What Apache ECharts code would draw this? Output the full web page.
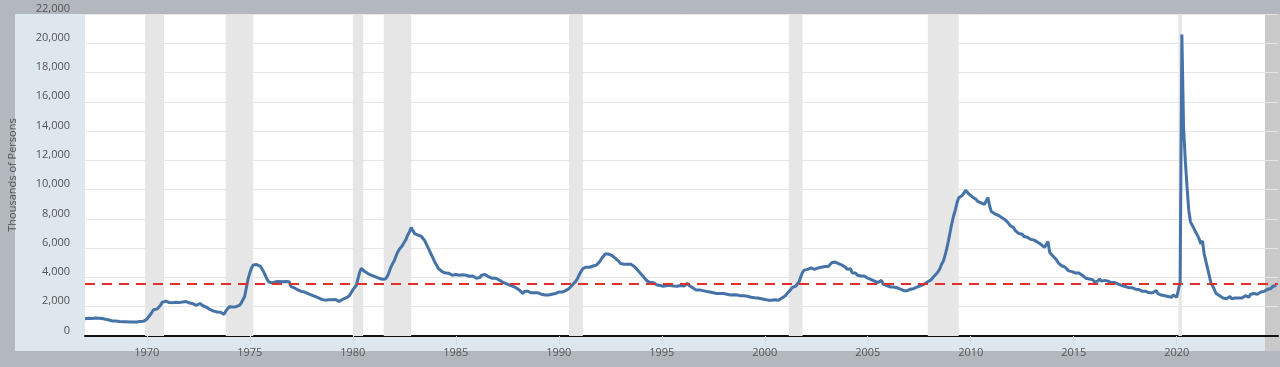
<!DOCTYPE html>
<html>
<head>
<meta charset="utf-8">
<script src="https://cdn.jsdelivr.net/npm/echarts@6/dist/echarts.min.js"></script>
<style>
html,body{margin:0;padding:0;background:#b3b8bf;}
#c{width:1280px;height:367px;}
</style>
</head>
<body>
<div id="c"></div>
<script>
// Unemployment level - job losers (thousands of persons), monthly, Jan 1967 - Nov 2024
const startYear = 1967;
const values1967to1979 = [
  1180,1230,1210,1260,1200,1240,1230,1190,1220,1250,1200,1180,
  1140,1110,1090,1060,1030,1050,1020,1000,990,1010,980,960,
  970,940,960,930,950,980,960,970,990,980,1000,1010,
  1150,1300,1450,1620,1800,1830,1850,1950,2100,2300,2350,2380,
  2350,2290,2320,2280,2330,2300,2360,2280,2300,2330,2290,2350,
  2330,2250,2280,2200,2150,2100,2180,2220,2150,2050,2000,1950,
  1850,1800,1760,1700,1660,1640,1650,1620,1640,1480,1700,1850,
  2000,2050,1980,1950,2000,2020,2100,2250,2350,2700,3300,3900,
  4300,4650,4850,4950,4880,4750,4780,4600,4400,4150,3900,3700,
  3650,3620,3680,3700,3650,3720,3680,3700,3660,3720,3800,3700,
  3380,3300,3280,3200,3150,3100,3050,3020,3000,2950,2900,2850,
  2800,2750,2700,2650,2600,2550,2500,2480,2450,2500,2470,2520,
  2480,2420,2500,2380,2350,2450,2500,2550,2600,2650,2750,2850
];
const values1980to1989 = [
  3150,3200,3450,3900,4350,4620,4550,4400,4300,4250,4200,4150,
  4100,4050,4000,3950,3900,3880,3870,3900,4050,4300,4650,4900,
  5100,5400,5700,5900,5850,6200,6400,6600,6900,7100,7420,7200,
  7000,6950,6900,6850,6800,6750,6500,6250,6000,5750,5500,5250,
  5000,4800,4600,4500,4400,4350,4300,4250,4280,4200,4150,4200,
  4200,4180,4150,4220,4180,4100,4150,4120,4080,4150,4100,4050,
  3950,4050,4000,4150,4250,4200,4100,4050,4000,3950,3900,3950,
  3900,3850,3800,3700,3650,3600,3550,3500,3450,3400,3350,3300,
  3200,3150,3100,2900,3050,3000,3050,3000,2950,3050,2950,3000,
  2950,2900,2850,2850,2800,2850,2800,2750,2850,2800,2900,2950
];
const values1990to1999 = [
  3000,3050,3000,3100,3100,3150,3250,3350,3500,3600,3750,3950,
  4200,4400,4600,4550,4700,4650,4700,4750,4780,4800,4850,4950,
  5100,5300,5450,5600,5650,5600,5550,5500,5400,5300,5200,5100,
  4950,4950,4900,4980,4900,4850,4900,4800,4750,4650,4500,4350,
  4250,4100,3950,3800,3700,3650,3600,3650,3550,3500,3450,3450,
  3450,3400,3380,3450,3500,3450,3400,3420,3450,3400,3420,3450,
  3450,3420,3500,3600,3450,3350,3300,3200,3150,3100,3150,3100,
  3100,3050,3050,3000,3000,2950,2950,2900,2900,2950,2900,2880,
  2900,2950,2850,2850,2800,2800,2820,2780,2800,2780,2750,2750,
  2750,2700,2720,2680,2650,2650,2620,2600,2600,2570,2550,2550
];
const values2000to2009 = [
  2500,2480,2450,2350,2450,2400,2480,2500,2450,2480,2600,2650,
  2750,2900,3000,3150,3300,3350,3400,3550,3700,4050,4350,4500,
  4520,4550,4500,4650,4600,4550,4600,4650,4600,4700,4700,4750,
  4700,4750,4850,5000,5100,5050,4950,4950,4900,4850,4750,4700,
  4550,4450,4600,4300,4350,4300,4150,4200,4100,4050,4100,4050,
  3950,3900,3850,3800,3750,3700,3650,3600,3800,3550,3500,3450,
  3400,3350,3300,3350,3250,3300,3250,3200,3150,3100,3150,3100,
  3150,3200,3100,3250,3300,3350,3400,3450,3500,3550,3600,3700,
  3800,3850,4000,4050,4250,4400,4600,4900,5100,5500,5950,6500,
  7100,7700,8200,8600,9100,9450,9550,9600,9750,9950,9900,9700
];
const values2010to2019 = [
  9600,9500,9450,9350,9200,9150,9100,9050,9000,9050,9450,8900,
  8500,8400,8350,8300,8250,8200,8100,8050,7950,7850,7700,7550,
  7500,7400,7200,7100,7000,7050,6950,6800,6700,6750,6650,6600,
  6650,6550,6450,6400,6300,6250,6200,6050,6000,6450,5700,5600,
  5450,5350,5200,5000,4950,4800,4750,4700,4600,4450,4500,4400,
  4350,4300,4250,4300,4250,4150,4100,3950,4000,3900,3950,3850,
  3700,3800,3750,3900,3750,3700,3800,3850,3750,3700,3650,3700,
  3650,3600,3550,3500,3450,3400,3380,3350,3300,3280,3300,3250,
  3200,3150,3180,3100,3050,3000,3050,3000,2950,2900,2950,2900,
  3100,2900,2850,2800,2850,2750,2800,2700,2750,2650,2800,2700
];
const values2020to2024 = [
  2650,2700,3700,20600,14200,12000,10200,8600,7800,7700,7350,7100,
  6900,6650,6300,6500,5600,5100,4600,4100,3600,3400,3150,2900,
  2800,2750,2650,2600,2650,2550,2600,2700,2550,2650,2600,2550,
  2600,2700,2600,2550,2750,2700,2650,2850,2750,2900,2800,2850,
  2950,3000,2950,3050,3100,3200,3300,3250,3400,3350,3450
];
// NBER recessions [start, end] as decimal years (month starts)
const recessions = [
  [1969 + 11/12, 1970 + 10/12],
  [1973 + 10/12, 1975 + 2/12],
  [1980 + 0/12, 1980 + 6/12],
  [1981 + 6/12, 1982 + 10/12],
  [1990 + 6/12, 1991 + 2/12],
  [2001 + 2/12, 2001 + 10/12],
  [2007 + 11/12, 2009 + 5/12],
  [2020 + 1/12, 2020 + 3/12]
];
const referenceLevel = 3570;
const xTickYears = [1970, 1975, 1980, 1985, 1990, 1995, 2000, 2005, 2010, 2015, 2020];
const yTicks = [0, 2000, 4000, 6000, 8000, 10000, 12000, 14000, 16000, 18000, 20000, 22000];
const yAxisTitle = 'Thousands of Persons';

const allValues = [].concat(values1967to1979, values1980to1989, values1990to1999,
  values2000to2009, values2010to2019, values2020to2024);
const lineData = allValues.map((v, i) => [startYear + i / 12, v]);

const chart = echarts.init(document.getElementById('c'), null, {renderer: 'canvas'});
const option = {
  backgroundColor: '#b3b8bf',
  animation: false,
  graphic: [
    {type: 'rect', z: -10, silent: true, shape: {x: 15, y: 14, width: 1250, height: 337}, style: {fill: '#dee6ee'}},
    {type: 'rect', z: -9, silent: true, shape: {x: 85, y: 14, width: 1180, height: 322}, style: {fill: '#ffffff'}},
    {type: 'rect', z: -9, silent: true, shape: {x: 1265, y: 14, width: 15, height: 337}, style: {fill: '#c9c9c9'}}
  ],
  grid: {left: 85, right: 2, top: 14, bottom: 31, containLabel: false, outerBoundsMode: 'none'},
  xAxis: {
    type: 'value',
    min: startYear,
    max: 2024 + 11/12,
    splitLine: {show: false},
    axisLine: {show: true, onZero: false, lineStyle: {color: '#111', width: 2}},
    axisTick: {show: true, customValues: xTickYears, length: 8, lineStyle: {color: '#ccd6eb'}},
    axisLabel: {
      customValues: xTickYears,
      formatter: v => String(Math.round(v)),
      color: '#555', fontSize: 11, fontFamily: 'Open Sans', margin: 11
    }
  },
  yAxis: {
    type: 'value',
    min: 0, max: 22000, interval: 2000,
    name: yAxisTitle,
    nameLocation: 'middle',
    nameGap: 67,
    nameTextStyle: {color: '#555', fontSize: 11, fontFamily: 'Open Sans'},
    axisLine: {show: false},
    axisTick: {show: false},
    splitLine: {lineStyle: {color: '#e6e6e6', width: 1}},
    axisLabel: {
      customValues: yTicks,
      formatter: v => v.toLocaleString('en-US'),
      color: '#555', fontSize: 11, fontFamily: 'Open Sans', margin: 15,
      verticalAlign: 'bottom', lineHeight: 11
    }
  },
  series: [
    {
      type: 'line', z: 1, data: [], silent: true,
      markArea: {
        silent: true,
        itemStyle: {color: '#e6e6e6'},
        data: recessions.map(r => [{xAxis: r[0]}, {xAxis: r[1]}])
      }
    },
    {
      type: 'line', z: 3,
      data: lineData,
      showSymbol: false,
      lineStyle: {color: '#4572a7', width: 3},
      itemStyle: {color: '#4572a7'},
      markLine: {
        silent: true, symbol: 'none', label: {show: false},
        lineStyle: {color: '#e0302a', type: [10, 7], width: 2},
        data: [{yAxis: referenceLevel}]
      }
    }
  ]
};
chart.setOption(option);
</script>
</body>
</html>
